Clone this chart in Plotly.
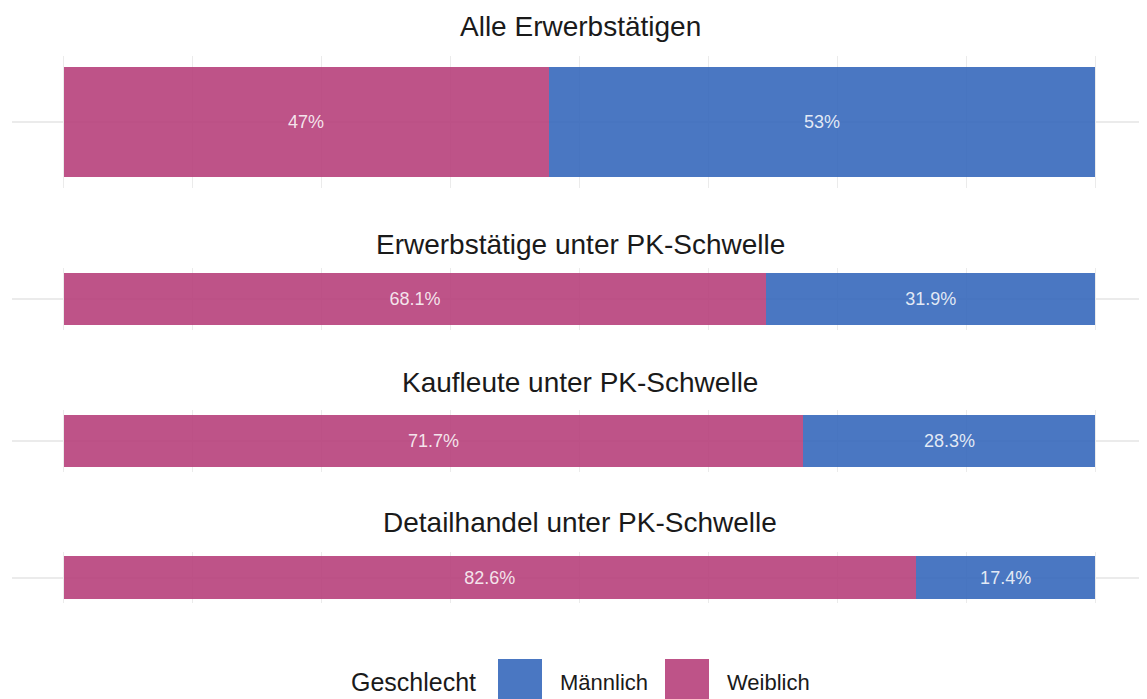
import plotly.graph_objects as go

# ---- data ----
categories = [
    "Alle Erwerbstätigen",
    "Erwerbstätige unter PK-Schwelle",
    "Kaufleute unter PK-Schwelle",
    "Detailhandel unter PK-Schwelle",
]
weiblich = [47, 68.1, 71.7, 82.6]
maennlich = [53, 31.9, 28.3, 17.4]
legend_title = "Geschlecht"
series_names = ["Männlich", "Weiblich"]

# ---- style ----
OFF = 8  # page body margin of the browser
W, H = 1147 - OFF, 699 - OFF
ML, MR = 12 - OFF, 0
PINK = "#B7407B"
BLUE = "#3668BB"
GRID = "#EBEBEB"
TXT = "#1A1A1A"
FONT = "Liberation Sans, Arial, Helvetica, sans-serif"

# panel pixel extents (top, bottom) and title cap centres, in window pixels
panels_px = [(56, 188), (268, 330), (410, 472), (552, 603)]
title_px = [25, 243.5, 381, 521.5]

def py(p):
    return 1 - (p - OFF) / H

def px_x(p):
    return (p - OFF - ML) / (W - ML - MR)

fig = go.Figure()
layout = dict(
    width=W, height=H,
    margin=dict(l=ML, r=MR, t=0, b=0),
    paper_bgcolor="white", plot_bgcolor="white",
    barmode="stack", showlegend=False,
    font=dict(family=FONT, color=TXT),
)

annotations = []
for i, cat in enumerate(categories):
    n = i + 1
    xa = "x" if n == 1 else f"x{n}"
    ya = "y" if n == 1 else f"y{n}"
    for val, col in [(weiblich[i], PINK), (maennlich[i], BLUE)]:
        fig.add_trace(go.Bar(
            x=[val / 100], y=[0], orientation="h", width=1,
            marker=dict(color=col, opacity=0.9, line=dict(width=0)),
            text=[f"{val:g}%"], textposition="inside", insidetextanchor="middle",
            textfont=dict(family=FONT, size=18, color="rgba(255,255,255,0.85)"),
            constraintext="none", cliponaxis=False,
            xaxis=xa, yaxis=ya, hoverinfo="skip",
        ))
    top, bot = panels_px[i]
    layout[f"xaxis{'' if n == 1 else n}"] = dict(
        range=[-0.05, 1.05], anchor=ya, domain=[0, 1],
        tickvals=[k / 8 for k in range(9)], showticklabels=False, ticks="",
        showgrid=True, gridcolor=GRID, gridwidth=1, zeroline=False, showline=False,
        fixedrange=True,
    )
    layout[f"yaxis{'' if n == 1 else n}"] = dict(
        range=[-0.6, 0.6], anchor=xa, domain=[py(bot), py(top)],
        tickvals=[0], showticklabels=False, ticks="",
        showgrid=True, gridcolor=GRID, gridwidth=1.5, zeroline=False, showline=False,
        fixedrange=True,
    )
    annotations.append(dict(
        text=cat, xref="paper", yref="paper",
        x=px_x(580), y=py(title_px[i] + 1),
        xanchor="center", yanchor="middle", showarrow=False,
        font=dict(family=FONT, size=28, color=TXT),
    ))

# ---- legend (drawn at the bottom, partially cut as in the reference) ----
shapes = [
    dict(type="rect", xref="paper", yref="paper",
         x0=px_x(498), x1=px_x(542), y0=py(712), y1=py(659),
         fillcolor=BLUE, opacity=0.9, line=dict(width=0)),
    dict(type="rect", xref="paper", yref="paper",
         x0=px_x(665), x1=px_x(709), y0=py(712), y1=py(659),
         fillcolor=PINK, opacity=0.9, line=dict(width=0)),
]
annotations += [
    dict(text=legend_title, xref="paper", yref="paper", x=px_x(413), y=py(682),
         xanchor="center", yanchor="middle", showarrow=False,
         font=dict(family=FONT, size=25, color=TXT)),
    dict(text=series_names[0], xref="paper", yref="paper", x=px_x(604), y=py(682),
         xanchor="center", yanchor="middle", showarrow=False,
         font=dict(family=FONT, size=22, color=TXT)),
    dict(text=series_names[1], xref="paper", yref="paper", x=px_x(768.5), y=py(682),
         xanchor="center", yanchor="middle", showarrow=False,
         font=dict(family=FONT, size=22, color=TXT)),
]
layout["annotations"] = annotations
layout["shapes"] = shapes
fig.update_layout(**layout)
fig.write_html("out.html")
